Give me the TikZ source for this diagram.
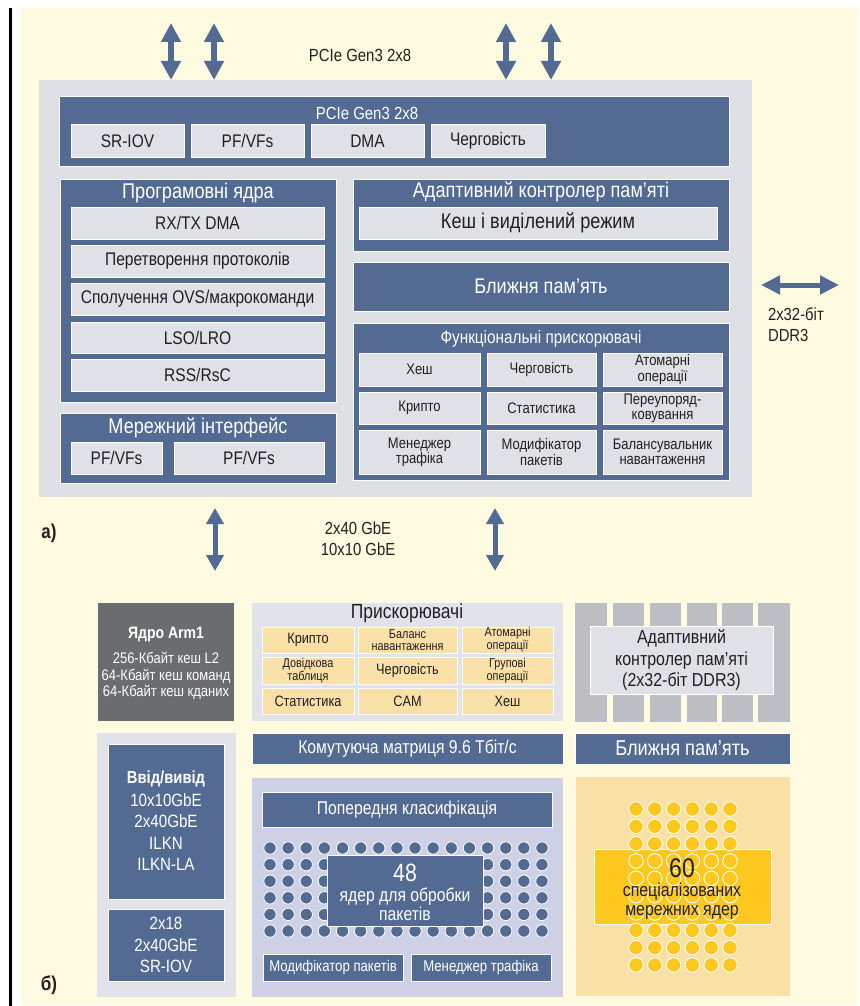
\documentclass[tikz,border=0pt]{standalone}
\usepackage{fontspec}
\setmainfont{Liberation Sans}[FakeStretch=0.85]
\usetikzlibrary{arrows.meta}
\definecolor{cream}{HTML}{FFFBE0}
\definecolor{cblue}{HTML}{536B93}
\definecolor{clight}{HTML}{DFE1E7}
\definecolor{cpanel}{HTML}{DEE0E6}
\definecolor{cdark}{HTML}{231F20}
\definecolor{carm}{HTML}{6B6C70}
\definecolor{ctan}{HTML}{F9E0A6}
\definecolor{cyel}{HTML}{FFC81F}
\definecolor{cstripe}{HTML}{BDBEC3}
\definecolor{clav}{HTML}{CED0E6}
\definecolor{cio}{HTML}{E2E3EA}
\newcommand\fsz[2]{\fontsize{#1}{#2}\selectfont}
\newcommand\bx[7]{\node[#6, minimum width={(#4)-(#2)}, minimum height={(#5)-(#3)}] (#1) at ({((#2)+(#4))/2},{((#3)+(#5))/2}) {#7};}
\tikzset{
  base/.style={inner sep=0pt, outer sep=0pt, align=center, draw=white, line width=1pt},
  bluebox/.style={base, fill=cblue, text=white},
  lgbox/.style={base, fill=clight, text=cdark},
  tanbox/.style={base, fill=ctan, text=cdark},
  panel/.style={inner sep=0pt, outer sep=0pt, fill=cpanel},
  lbl/.style={inner sep=0pt, outer sep=0pt, align=center, text=cdark},
  wlbl/.style={lbl, text=white},
  bigarrow/.style={draw=cblue, line width=6.5pt, {Triangle[width=19pt,length=19pt]}-{Triangle[width=19pt,length=19pt]}},
  midarrow/.style={draw=cblue, line width=5pt, {Triangle[width=17pt,length=16pt]}-{Triangle[width=17pt,length=16pt]}},
  harrow/.style={draw=cblue, line width=5pt, {Triangle[width=18pt,length=19pt]}-{Triangle[width=18pt,length=19pt]}},
  fP/.style={font=\fsz{17.6}{18}},
  fA/.style={font=\fsz{18.2}{19}},
  fT/.style={font=\fsz{21.3}{22}},
  fI/.style={font=\fsz{18.3}{19}},
  fG/.style={font=\fsz{15.3}{15.2}},
  fB/.style={font=\fsz{15}{16}},
  fS/.style={font=\fsz{12.8}{11.8}},
  fM/.style={font=\fsz{18.5}{19}},
  dotb/.style={fill=cblue, draw=white, line width=0.8pt},
  doty/.style={fill=cyel, draw=white, line width=0.9pt},
}
\begin{document}
\begin{tikzpicture}[x=1pt, y=-1pt]
\useasboundingbox (0,0) rectangle (859,1006);
\fill[white] (0,0) rectangle (859,1006);
\fill[cream] (21,8) rectangle (858,1005);
\draw[black, line width=3pt] (10,8) -- (10,1006);

% ===== a) =====
\bx{outer}{39}{80}{752}{497}{panel}{}
\node[lbl, fP] (pcietop) at (360,55) {PCIe Gen3 2x8};
\coordinate (t1) at (171,23); \coordinate (t2) at (214,23);
\coordinate (t3) at (506,23); \coordinate (t4) at (551,23);
\foreach \t in {t1,t2,t3,t4} \draw[bigarrow] (\t) -- (outer.north -| \t);

\bx{pcie}{59}{97}{729}{166}{bluebox}{}
\node[wlbl, fP] (pcietitle) at (367,113) {PCIe Gen3 2x8};
\bx{sriov}{71}{125}{184}{157}{lgbox, fA}{SR-IOV}
\bx{pfvf1}{191}{125}{304}{157}{lgbox, fA}{PF/VFs}
\bx{dma}{311}{125}{424}{157}{lgbox, fA}{DMA}
\bx{queue1}{431}{125}{545}{157}{lgbox, fA}{Черговість}

\bx{prog}{60}{179}{336}{402}{bluebox}{}
\node[wlbl, fT] (progtitle) at (198,193) {Програмовні ядра};
\bx{rxtx}{71}{207}{324}{239}{lgbox, fI}{RX/TX DMA}
\bx{conv}{71}{245}{324}{277}{lgbox, fI}{Перетворення протоколів}
\bx{ovs}{71}{283}{324}{315}{lgbox, fI}{Сполучення OVS/макрокоманди}
\bx{lso}{71}{322}{324}{353}{lgbox, fI}{LSO/LRO}
\bx{rss}{71}{359}{324}{391}{lgbox, fI}{RSS/RsC}

\bx{net}{60}{413}{336}{483}{bluebox}{}
\node[wlbl, fT] (nettitle) at (198,428) {Мережний інтерфейс};
\bx{pfvf2}{71}{442}{162}{474}{lgbox, fA}{PF/VFs}
\bx{pfvf3}{174}{442}{324}{474}{lgbox, fA}{PF/VFs}

\bx{amc}{353}{179}{729}{251}{bluebox}{}
\node[wlbl, fT] (amctitle) at (541,192) {Адаптивний контролер пам’яті};
\bx{cache}{359}{207}{717}{239}{lgbox, fT}{Кеш і виділений режим}

\bx{near1}{353}{262}{729}{311}{bluebox, fT}{Ближня пам’ять}

\bx{func}{353}{323}{729}{480}{bluebox}{}
\node[wlbl, font=\fsz{18}{19}] (functitle) at (541,339) {Функціональні прискорювачі};
\bx{g11}{359}{353}{480}{386}{lgbox, fG}{Хеш}
\bx{g12}{487}{353}{596}{386}{lgbox, fG}{Черговість}
\bx{g13}{603}{353}{722}{386}{lgbox, fG}{Атомарні\\операції}
\bx{g21}{359}{392}{480}{424}{lgbox, fG}{Крипто}
\bx{g22}{487}{392}{596}{424}{lgbox, fG}{Статистика}
\bx{g23}{603}{392}{722}{424}{lgbox, fG}{Переупоряд-\\ковування}
\bx{g31}{359}{430}{480}{474}{lgbox, fG}{Менеджер\\трафіка}
\bx{g32}{487}{430}{596}{474}{lgbox, fG}{Модифікатор\\пакетів}
\bx{g33}{603}{430}{722}{474}{lgbox, fG}{Балансувальник\\навантаження}

\coordinate (d1) at (761,285); \coordinate (d2) at (839,285);
\draw[harrow] (d1) -- (d2);
\node[lbl, anchor=west, align=left, font=\fsz{17.5}{21}] (ddr) at (768,325) {2x32-біт\\DDR3};

\coordinate (m1) at (215,571); \coordinate (m2) at (495,571);
\draw[midarrow] (outer.south -| m1) ++(0,11) coordinate (m1t) (m1t) -- (m1);
\draw[midarrow] (outer.south -| m2) ++(0,11) coordinate (m2t) (m2t) -- (m2);
\node[lbl, font=\fsz{17.5}{21}] (gbe) at (358,539) {2x40 GbE\\10x10 GbE};
\node[lbl, font=\bfseries\fsz{20}{21}] (la) at (49,533) {а)};

% ===== б) =====
\bx{arm}{98}{603}{234}{721}{base, fill=carm, draw=none}{}
\node[wlbl, font=\bfseries\fsz{16.5}{17}] (armtitle) at (166,635) {Ядро Arm1};
\node[wlbl, font=\fsz{15.3}{16.5}] (armtext) at (166,676) {256-Кбайт кеш L2\\64-Кбайт кеш команд\\64-Кбайт кеш кданих};

\bx{acc}{252}{603}{563}{721}{base, fill=cio, draw=none}{}
\node[lbl, font=\fsz{20.5}{21}] (acctitle) at (407,613) {Прискорювачі};
\bx{a11}{262}{627}{354}{653}{tanbox, fB}{Крипто}
\bx{a12}{358}{627}{457}{653}{tanbox, fS}{Баланс\\навантаження}
\bx{a13}{462}{627}{553}{653}{tanbox, fS}{Атомарні\\операції}
\bx{a21}{262}{657}{354}{684}{tanbox, fS}{Довідкова\\таблиця}
\bx{a22}{358}{657}{457}{684}{tanbox, fB}{Черговість}
\bx{a23}{462}{657}{553}{684}{tanbox, fS}{Групові\\операції}
\bx{a31}{262}{688}{354}{714}{tanbox, fB}{Статистика}
\bx{a32}{358}{688}{457}{714}{tanbox, fB}{CAM}
\bx{a33}{462}{688}{553}{714}{tanbox, fB}{Хеш}

\foreach \xa/\xb in {575/607, 613/644, 650/681, 687/717, 722/753, 758/790}
  \fill[cstripe] (\xa,603) rectangle (\xb,722);
\bx{amc2}{590}{626}{773}{694}{lgbox, font=\fsz{18.8}{21.5}}{Адаптивний\\контролер пам’яті\\(2x32-біт DDR3)}

\bx{near2}{575}{733}{790}{764}{bluebox, font=\fsz{21.5}{22}}{Ближня пам’ять}
\bx{switch}{252}{733}{563}{764}{bluebox, fM}{Комутуюча матриця 9.6 Тбіт/с}

\bx{iop}{97}{733}{236}{997}{base, fill=cio, draw=none}{}
\bx{io1}{108}{744}{224}{899}{bluebox}{}
\node[wlbl, font=\bfseries\fsz{17.4}{21}] (iotitle) at (166,779) {Ввід/вивід};
\node[wlbl, font=\fsz{17.8}{21.3}] (iotext) at (166,832) {10x10GbE\\2x40GbE\\ILKN\\ILKN-LA};
\bx{io2}{108}{909}{224}{981}{bluebox, font=\fsz{17.8}{21.5}}{2x18\\2x40GbE\\SR-IOV}

\bx{proc}{252}{778}{563}{997}{base, fill=clav, draw=none}{}
\bx{precls}{262}{792}{552}{827}{bluebox, fM}{Попередня класифікація}
\foreach \i in {0,...,15} \foreach \j in {0,...,5}
  \filldraw[dotb] ({270+18.13*\i},{848+16.6*\j}) circle (6.2);
\bx{cores48}{327}{855}{483}{926}{bluebox}{}
\node[wlbl, font=\fsz{25}{26}] (n48) at (405,873) {48};
\node[wlbl, font=\fsz{18.5}{19}] (t48) at (405,904) {ядер для обробки\\пакетів};
\bx{pmod}{263}{954}{403}{981}{bluebox, font=\fsz{15.5}{16}}{Модифікатор пакетів}
\bx{tmgr}{411}{954}{551}{981}{bluebox, font=\fsz{15.5}{16}}{Менеджер трафіка}

\bx{spec}{576}{777}{790}{996}{base, fill=ctan, draw=none}{}
\bx{cores60}{594}{849}{771}{924}{base, fill=cyel}{}
\foreach \i in {0,...,5} \foreach \j in {0,...,9}
  \filldraw[doty] ({636+18.8*\i},{809+17.33*\j}) circle (7.3);
\node[lbl, font=\fsz{27}{28}] (n60) at (682,868) {60};
\node[lbl, font=\fsz{18.7}{18.5}] (t60) at (682,901) {спеціалізованих\\мережних ядер};

\node[lbl, font=\bfseries\fsz{20}{21}] (lb) at (49,985) {б)};
\end{tikzpicture}
\end{document}
